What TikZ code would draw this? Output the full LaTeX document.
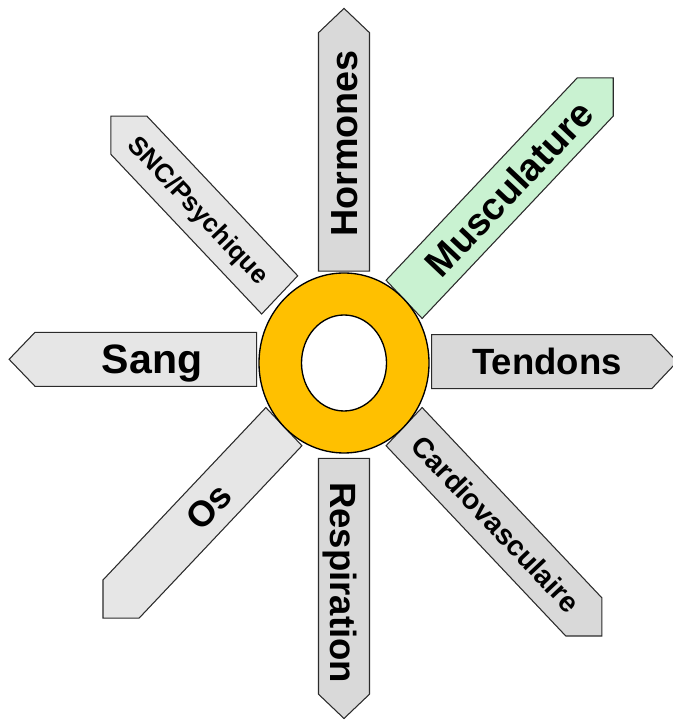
\documentclass[tikz,border=0pt]{standalone}
\usepackage{fontspec}
\setmainfont{Liberation Sans}

\definecolor{ringfill}{HTML}{FFC000}
\definecolor{lightgrey}{HTML}{E6E6E6}
\definecolor{midgrey}{HTML}{D9D9D9}
\definecolor{mintgreen}{HTML}{C9F2D1}
\definecolor{rimline}{HTML}{2B2B2B}

% half width of every ray, in units of the ring's outer radius
\def\hw{0.3}

% \ray{cx}{cy}{angle}{inner end}{outer end}{tip}{style}
\newcommand\ray[7]{%
  \begin{scope}[shift={(#1,#2)}, xscale=85, yscale=90]
    \draw[#7, rotate=#3] (#4,-\hw) -- (#5,-\hw) -- (#6,0) -- (#5,\hw) -- (#4,\hw) -- cycle;
  \end{scope}}

\tikzset{
  raybox/.style={draw=rimline, line width=0.8pt, line join=miter},
  greyA/.style={raybox, fill=lightgrey},
  greyB/.style={raybox, fill=midgrey},
  greenray/.style={raybox, fill=mintgreen},
  % bold label of size #1 (pt); the box is as tall as a capital, so its centre is the caps' centre
  lbl/.style={inner sep=0pt, anchor=center, text depth=0pt,
    font=\fontsize{#1}{#1}\selectfont\bfseries},
}

\begin{document}
\begin{tikzpicture}[x=0.75pt, y=0.75pt]
  \useasboundingbox (0,0) rectangle (672,720);

  % the eight rays around the ring
  \ray{344}{357}{90}{1.02}{3.67}{3.94}{greyB}       % Hormones
  \ray{344}{357}{45}{1.00}{4.18}{4.48}{greenray}    % Musculature
  \ray{344}{358.3}{0}{1.03}{3.62}{3.92}{greyB}      % Tendons
  \ray{344}{357}{-45}{1.00}{3.99}{4.29}{greyB}      % Cardiovasculaire
  \ray{344}{357}{270}{1.06}{3.68}{3.95}{greyB}      % Respiration
  \ray{344}{357}{225}{1.00}{3.71}{4.01}{greyA}      % Os
  \ray{344}{360.7}{180}{1.027}{3.635}{3.94}{greyA}  % Sang
  \ray{344}{357}{135}{1.07}{3.58}{3.88}{greyA}      % SNC/Psychique

  % central ring
  \draw[line width=1pt, fill=ringfill, even odd rule]
    (344,357) ellipse [x radius=85, y radius=90]
    (344,357) ellipse [x radius=42.5, y radius=48];

  % labels
  \begin{scope}[shift={(344,357)}, xscale=85, yscale=90]
    \node[lbl=28.3, text height=20.3pt, rotate=90]
      (hormones) at (90:2.44) {Hormones};
    \node[lbl=28.6, text height=20.5pt, rotate=46.6]
      (muscles) at (45:2.74) {Musculature};
    \node[lbl=21.4, text height=15.3pt, rotate=-46.6]
      (cardio) at (-45:2.53) {Cardiovasculaire};
    \node[lbl=27.4, text height=19.6pt, rotate=-90]
      (respiration) at (270:2.44) {Respiration};
    \node[lbl=27, text height=19.3pt, rotate=46.6]
      (os) at (225:2.25) {Os};
    \node[lbl=19.5, text height=14pt, rotate=-46.6]
      (snc) at (135:2.41) {SNC/Psychique};
  \end{scope}
  \node[lbl=30.8, text height=22.1pt] (sang) at (152,361) {Sang};
  \node[lbl=27.4, text height=19.6pt] (tendons) at (547,358.5) {Tendons};
\end{tikzpicture}
\end{document}
